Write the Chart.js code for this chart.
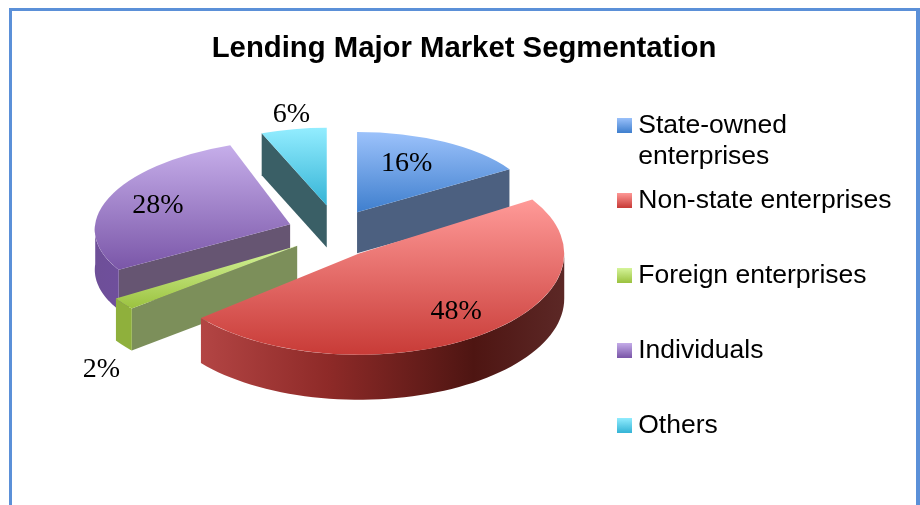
<!DOCTYPE html>
<html><head><meta charset="utf-8">
<script src="https://cdn.jsdelivr.net/npm/chart.js@4"></script>
<style>
html,body{margin:0;padding:0;background:#fff;overflow:hidden}
#frame{position:absolute;left:9px;top:8px;width:904px;height:497px;border:3px solid #5b90d8;border-right-width:4px;border-bottom:0}
#wrap{position:absolute;left:0;top:0;width:920px;height:505px}
</style></head><body>
<div id="frame"></div>
<div id="wrap"><canvas id="c" width="920" height="505"></canvas></div>
<script>
const titleText = "Lending Major Market Segmentation";
const categories = ["State-owned enterprises","Non-state enterprises","Foreign enterprises","Individuals","Others"];
const legendLines = [["State-owned","enterprises"],["Non-state enterprises"],["Foreign enterprises"],["Individuals"],["Others"]];
const shareValues = [16,48,2,28,6];

// styling of the exploded pseudo-3D pie
const explodeOffsets = [52,46,43,44,60];
const sliceNudgeX = [0,0,0,0,6];
const sliceNudgeY = [0,0,-2,-4,0];
const sliceScale = [0.95,1.08,1.13,1.026,0.93];
const sliceTilt  = [0.445,0.493,0.46,0.436,0.44];
const sliceSkew  = [0,0,0,-0.15,0];
const sliceDepth = [41,45,42,40,42];
const topFromColors = ["#9cc2fb","#ff9a98","#d6f59c","#c6aeea","#93edff"];
const topToColors   = ["#3f7fce","#c83b37","#9bc23f","#7a56a8","#35b4d6"];
const wallColors = ["#4c6080","#7a3030","#7c8f5a","#665572","#3a5f66"];
const rimStops = [
  [["0","#4c6080"],["1","#4c6080"]],
  [["0","#b34544"],["0.35","#8e2a28"],["0.75","#4e1512"],["1","#5c2826"]],
  [["0","#8fb03c"],["1","#8fb03c"]],
  [["0","#6e4f98"],["1","#6f4f9c"]],
  [["0","#3a5f66"],["1","#3a5f66"]]
];
const labelFactorX = [0.57,0.805,1.127,0.713,1.07];
const labelFactorY = [0.695,0.71,2.14,0.69,1.19];
const paintOrder = [4,0,3,2,1];
const pieCenterX = 332, pieCenterY = 235, explodeTilt = 0.5;
const legendX = 624, legendLabelPad = 48.5, legendShiftY = 63.5;

function boxImage(i){
  const cv=document.createElement('canvas');cv.width=15;cv.height=15;
  const g=cv.getContext('2d');
  const gr=g.createLinearGradient(0,0,0,15);
  gr.addColorStop(0,topFromColors[i]);gr.addColorStop(1,topToColors[i]);
  g.fillStyle=gr;g.fillRect(0,0,15,15);
  return cv;
}
const boxes=categories.map((_,i)=>boxImage(i));

function geom(el,i){
  const p=el.getProps(['x','y','startAngle','endAngle','outerRadius'],true);
  const mid=(p.startAngle+p.endAngle)/2, off=explodeOffsets[i];
  return {p,mid,off,
    ax:pieCenterX+Math.cos(mid)*off+sliceNudgeX[i],
    ay:pieCenterY+Math.sin(mid)*off*explodeTilt+sliceNudgeY[i],
    rx:p.outerRadius*sliceScale[i],
    ry:p.outerRadius*sliceScale[i]*sliceTilt[i]};
}
function rimPoint(G,i,a){
  const sy=Math.sin(a)*G.ry;
  return [G.ax+Math.cos(a)*G.rx+sliceSkew[i]*sy,G.ay+sy];
}
function drawFace(ctx,G,i,a,d,color){
  const q=rimPoint(G,i,a);
  ctx.fillStyle=color;ctx.beginPath();
  ctx.moveTo(G.ax,G.ay);ctx.lineTo(q[0],q[1]);ctx.lineTo(q[0],q[1]+d);ctx.lineTo(G.ax,G.ay+d);ctx.closePath();ctx.fill();
}
const pie3d={
  id:'pie3d',
  afterLayout(chart){
    const lg=chart.legend,w=lg.right-lg.left;
    lg.left=legendX-legendLabelPad;lg.right=lg.left+w;
    lg.top+=legendShiftY;lg.bottom+=legendShiftY;
  },
  beforeDatasetsDraw(chart){
    const ctx=chart.ctx,arcs=chart.getDatasetMeta(0).data;
    paintOrder.forEach(i=>{
      const el=arcs[i],G=geom(el,i),{p,ax,ay}=G,d=sliceDepth[i];
      const a0=p.startAngle,a1=p.endAngle;
      if(Math.sin(a0-Math.PI/2)>0.01) drawFace(ctx,G,i,a0,d,wallColors[i]);
      if(Math.sin(a1+Math.PI/2)>0.01) drawFace(ctx,G,i,a1,d,wallColors[i]);
      const s=Math.max(a0,0),e=Math.min(a1,Math.PI);
      if(e>s){
        const n=60,top=[];
        for(let k=0;k<=n;k++)top.push(rimPoint(G,i,s+(e-s)*k/n));
        const xs=top.map(t=>t[0]);
        const gr=ctx.createLinearGradient(Math.min(...xs),0,Math.max(...xs),0);
        rimStops[i].forEach(t=>gr.addColorStop(+t[0],t[1]));
        ctx.fillStyle=gr;ctx.beginPath();
        top.forEach((t,k)=>k?ctx.lineTo(t[0],t[1]):ctx.moveTo(t[0],t[1]));
        for(let k=n;k>=0;k--)ctx.lineTo(top[k][0],top[k][1]+d);
        ctx.closePath();ctx.fill();
      }
      let minS=0,maxS=0;
      [a0,a1].forEach(a=>{minS=Math.min(minS,Math.sin(a));maxS=Math.max(maxS,Math.sin(a));});
      if(a0<=-Math.PI/2&&a1>=-Math.PI/2||a0<=1.5*Math.PI&&a1>=1.5*Math.PI)minS=-1;
      if(a0<=Math.PI/2&&a1>=Math.PI/2)maxS=1;
      ctx.save();
      ctx.translate(ax,ay);
      ctx.transform(1,0,sliceSkew[i],1,0,0);
      ctx.scale(sliceScale[i],sliceScale[i]*sliceTilt[i]);
      ctx.translate(-p.x,-p.y);
      const R=p.outerRadius;
      const gr=ctx.createLinearGradient(0,p.y+minS*R,0,p.y+maxS*R);
      gr.addColorStop(0,topFromColors[i]);gr.addColorStop(1,topToColors[i]);
      const saved=el.options;
      el.options=Object.assign({},saved,{backgroundColor:gr,borderWidth:0,offset:0});
      el.draw(ctx);
      el.options=saved;
      ctx.restore();
    });
    ctx.save();
    ctx.font='28px "Liberation Serif"';ctx.fillStyle='#000';ctx.textAlign='center';ctx.textBaseline='middle';
    arcs.forEach((el,i)=>{
      const G=geom(el,i);
      ctx.fillText(shareValues[i]+'%',G.ax+Math.cos(G.mid)*G.rx*labelFactorX[i],G.ay+Math.sin(G.mid)*G.ry*labelFactorY[i]);
    });
    ctx.restore();
    return false;
  },
  afterDraw(chart){
    const ctx=chart.ctx,lg=chart.legend,o=chart.options.plugins.legend.labels;
    ctx.save();ctx.font='26.5px "Liberation Sans"';ctx.fillStyle='#000';ctx.textBaseline='middle';ctx.textAlign='left';
    const xt=lg.left+o.padding+o.boxWidth+13.25;
    const yt=lg.top+o.padding+13.25;
    const step=31;
    legendLines.forEach((ln,i)=>{
      if(ln.length>1)for(let k=1;k<ln.length;k++)ctx.fillText(ln[k],xt,yt+k*step);
    });
    ctx.restore();
  }
};
new Chart(document.getElementById('c'),{
  type:'pie',
  data:{labels:categories,datasets:[{data:shareValues,backgroundColor:topToColors,borderWidth:0,offset:explodeOffsets}]},
  plugins:[pie3d],
  options:{
    responsive:false,animation:false,radius:190,
    layout:{padding:{left:8,right:0,top:0,bottom:0}},
    plugins:{
      tooltip:{enabled:false},
      title:{display:true,text:titleText,color:'#000',font:{family:'"Liberation Sans"',size:29.3,weight:'bold'},padding:{top:31.5,bottom:4}},
      legend:{display:true,position:'right',align:'start',
        labels:{font:{family:'"Liberation Sans"',size:26.5},color:'#000',padding:legendLabelPad,boxWidth:1,boxHeight:15,usePointStyle:true,
          generateLabels(ch){return legendLines.map((ln,i)=>({text:ln[0],fillStyle:topToColors[i],strokeStyle:topToColors[i],lineWidth:0,pointStyle:boxes[i],hidden:false,index:i,fontColor:'#000',textAlign:'left'}));}
        }
      }
    }
  }
});
</script>
</body></html>
